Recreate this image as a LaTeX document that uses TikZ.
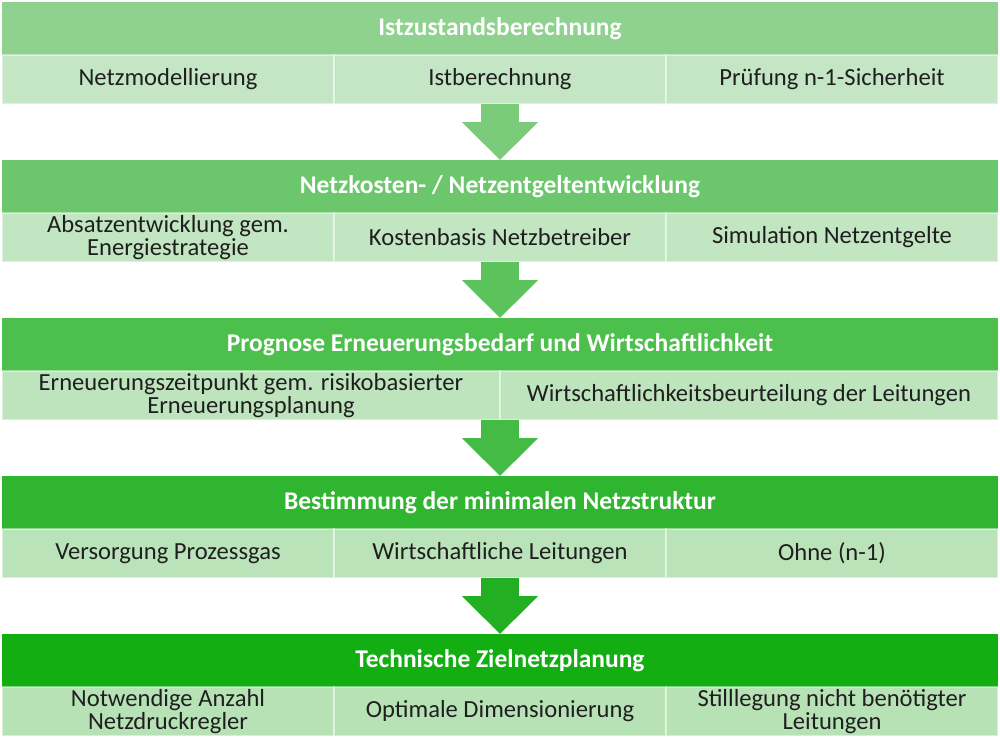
\documentclass[tikz,border=0pt]{standalone}
\usepackage{fontspec}
\setmainfont{Carlito}
\usetikzlibrary{arrows.meta, positioning}

\definecolor{headA}{HTML}{8FD18F}
\definecolor{headB}{HTML}{6CC76C}
\definecolor{headC}{HTML}{4CBF4C}
\definecolor{headD}{HTML}{30B530}
\definecolor{headE}{HTML}{12AE12}
\definecolor{subA}{HTML}{C5E6C5}
\definecolor{subB}{HTML}{C2E5C2}
\definecolor{subC}{HTML}{BEE4BE}
\definecolor{subD}{HTML}{BAE3BA}
\definecolor{subE}{HTML}{B6E2B6}
\definecolor{arrowA}{HTML}{7ACB7A}
\definecolor{arrowB}{HTML}{5CC35C}
\definecolor{arrowC}{HTML}{44BB44}
\definecolor{arrowD}{HTML}{22B022}

\tikzset{
	head/.style={rectangle, inner sep=0pt, outer sep=0pt, minimum width=19.92cm, minimum height=1.06cm, text=white, font=\fontsize{14.5}{13.5}\selectfont\bfseries},
	cell/.style={rectangle, inner sep=0pt, outer sep=0pt, minimum height=0.98cm, text=black!88, align=center, font=\fontsize{14}{13.5}\selectfont, draw=white, draw opacity=0.45, line width=1.2pt},
	third/.style={cell, minimum width=6.64cm},
	half/.style={cell, minimum width=9.96cm},
	downarrow/.style={line width=0.76cm, -{Triangle[length=0.76cm, width=1.48cm]}},
}

\begin{document}
\begin{tikzpicture}
	\useasboundingbox (0,0) rectangle (20,-14.74);
	
	% Istzustand
	\node[head, fill=headA, anchor=north west] (h1) at (0.04,-0.04) {Istzustandsberechnung};
	\node[third, fill=subA, below right=0pt and 0pt of h1.south west] (c11) {Netzmodellierung};
	\node[third, fill=subA, right=0pt of c11] (c12) {Istberechnung};
	\node[third, fill=subA, right=0pt of c12] (c13) {Prüfung n-1-Sicherheit};
	
	% Netzkosten
	\node[head, fill=headB, below=1.12cm of c12] (h2) {Netzkosten- / Netzentgeltentwicklung};
	\node[third, fill=subB, below right=0pt and 0pt of h2.south west] (c21) {Absatzentwicklung gem.\\Energiestrategie};
	\node[third, fill=subB, right=0pt of c21] (c22) {Kostenbasis Netzbetreiber};
	\node[third, fill=subB, right=0pt of c22] (c23) {Simulation Netzentgelte};
	
	% Prognose
	\node[head, fill=headC, below=1.12cm of c22] (h3) {Prognose Erneuerungsbedarf und Wirtschaftlichkeit};
	\node[half, fill=subC, below right=0pt and 0pt of h3.south west] (c31) {Erneuerungszeitpunkt gem. risikobasierter\\Erneuerungsplanung};
	\node[half, fill=subC, right=0pt of c31] (c32) {Wirtschaftlichkeitsbeurteilung der Leitungen};
	
	% minimale Netzstruktur
	\node[head, fill=headD, below=1.12cm of c31.south east, anchor=north] (h4) {Bestimmung der minimalen Netzstruktur};
	\node[third, fill=subD, below right=0pt and 0pt of h4.south west] (c41) {Versorgung Prozessgas};
	\node[third, fill=subD, right=0pt of c41] (c42) {Wirtschaftliche Leitungen};
	\node[third, fill=subD, right=0pt of c42] (c43) {Ohne (n-1)};
	
	% Zielnetz
	\node[head, fill=headE, below=1.12cm of c42] (h5) {Technische Zielnetzplanung};
	\node[third, fill=subE, below right=0pt and 0pt of h5.south west] (c51) {Notwendige Anzahl\\Netzdruckregler};
	\node[third, fill=subE, right=0pt of c51] (c52) {Optimale Dimensionierung};
	\node[third, fill=subE, right=0pt of c52] (c53) {Stilllegung nicht benötigter\\Leitungen};
	
	% Pfeile
	\draw[downarrow, arrowA] (c12.south) -- (h2.north);
	\draw[downarrow, arrowB] (c22.south) -- (h3.north);
	\draw[downarrow, arrowC] (c31.south east) -- (h4.north);
	\draw[downarrow, arrowD] (c42.south) -- (h5.north);
\end{tikzpicture}
\end{document}
